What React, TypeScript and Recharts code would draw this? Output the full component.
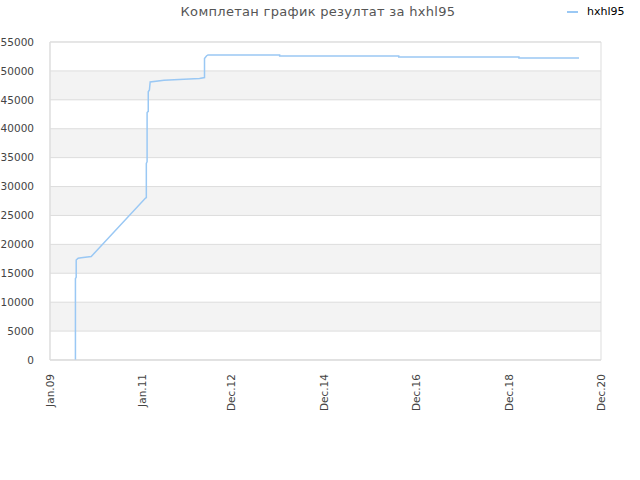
import React from "react";
import {
  CartesianGrid,
  Line,
  LineChart,
  ReferenceArea,
  XAxis,
  YAxis,
} from "recharts";

// x = months since Jan 2009
const MONTHS = [
  6.6, 6.6, 6.8, 6.8, 7.3, 8.1, 10.7, 24.8, 25.0, 25.0, 25.2, 25.2, 25.5, 25.5,
  25.8, 26.0, 29.6, 34.8, 38.8, 40.1, 40.1, 40.6, 41.0, 59.6, 59.6, 90.5, 90.5,
  121.7, 121.7, 137.3,
];
const SCORES = [
  0, 14100, 14300, 17300, 17600, 17700, 17900, 28000, 28100, 34000, 34300,
  42800, 43000, 46400, 46700, 48100, 48400, 48570, 48700, 48850, 52140, 52590,
  52760, 52760, 52590, 52590, 52420, 52420, 52250, 52250,
];

const X_TICKS = [0, 24, 47, 71, 95, 119, 143];
const X_LABELS = ["Jan.09", "Jan.11", "Dec.12", "Dec.14", "Dec.16", "Dec.18", "Dec.20"];
const Y_TICKS = [0, 5000, 10000, 15000, 20000, 25000, 30000, 35000, 40000, 45000, 50000, 55000];

const TITLE = "Комплетан график резултат за hxhl95";
const SERIES = "hxhl95";

const LINE = "#9ac8f4";
const GRID = "#dddddd";
const FONT = "DejaVu Sans, Verdana, sans-serif";

const rows = MONTHS.map((m, i) => ({ m, score: SCORES[i] }));

function XTick({ x, y, payload }: any) {
  const label = X_LABELS[X_TICKS.indexOf(payload.value)];
  return (
    <text
      x={x}
      y={y}
      transform={`rotate(-90, ${x}, ${y})`}
      textAnchor="end"
      dominantBaseline="central"
      fontSize={10.5}
      fill="#444"
      fontFamily={FONT}
    >
      {label}
    </text>
  );
}

export default function App() {
  return (
    <div style={{ position: "absolute", left: 0, top: 0, width: 640, height: 480, background: "#fff" }}>
      <div
        style={{
          position: "absolute",
          left: 0,
          width: 636,
          top: 4,
          textAlign: "center",
          fontFamily: FONT,
          fontSize: 13,
          letterSpacing: 0.3,
          color: "#555",
        }}
      >
        {TITLE}
      </div>
      <div
        style={{
          position: "absolute",
          left: 567,
          top: 5,
          display: "flex",
          alignItems: "center",
          fontFamily: FONT,
          fontSize: 11,
          color: "#000",
        }}
      >
        <span style={{ display: "inline-block", width: 11, height: 2, background: LINE, marginRight: 9 }} />
        {SERIES}
      </div>
      <LineChart
        width={640}
        height={480}
        data={rows}
        margin={{ top: 42, right: 39, left: 0, bottom: 0 }}
      >
        <CartesianGrid
          stroke={GRID}
          vertical={false}
          horizontalFill={["#ffffff", "#f3f3f3"]}
          fillOpacity={1}
        />
        <ReferenceArea
          x1={0}
          x2={143}
          y1={0}
          y2={55000}
          fill="none"
          stroke={GRID}
          strokeWidth={1}
        />
        <XAxis
          type="number"
          dataKey="m"
          domain={[0, 143]}
          ticks={X_TICKS}
          interval={0}
          height={120}
          tick={<XTick />}
          tickLine={false}
          axisLine={{ stroke: GRID }}
          tickMargin={8}
        />
        <YAxis
          type="number"
          domain={[0, 55000]}
          ticks={Y_TICKS}
          interval={0}
          width={50}
          tick={{ fontSize: 10.5, fill: "#444", fontFamily: FONT }}
          tickLine={false}
          axisLine={{ stroke: GRID }}
          tickMargin={10}
        />
        <Line
          type="linear"
          dataKey="score"
          stroke={LINE}
          strokeWidth={1.5}
          dot={false}
          isAnimationActive={false}
        />
      </LineChart>
    </div>
  );
}
